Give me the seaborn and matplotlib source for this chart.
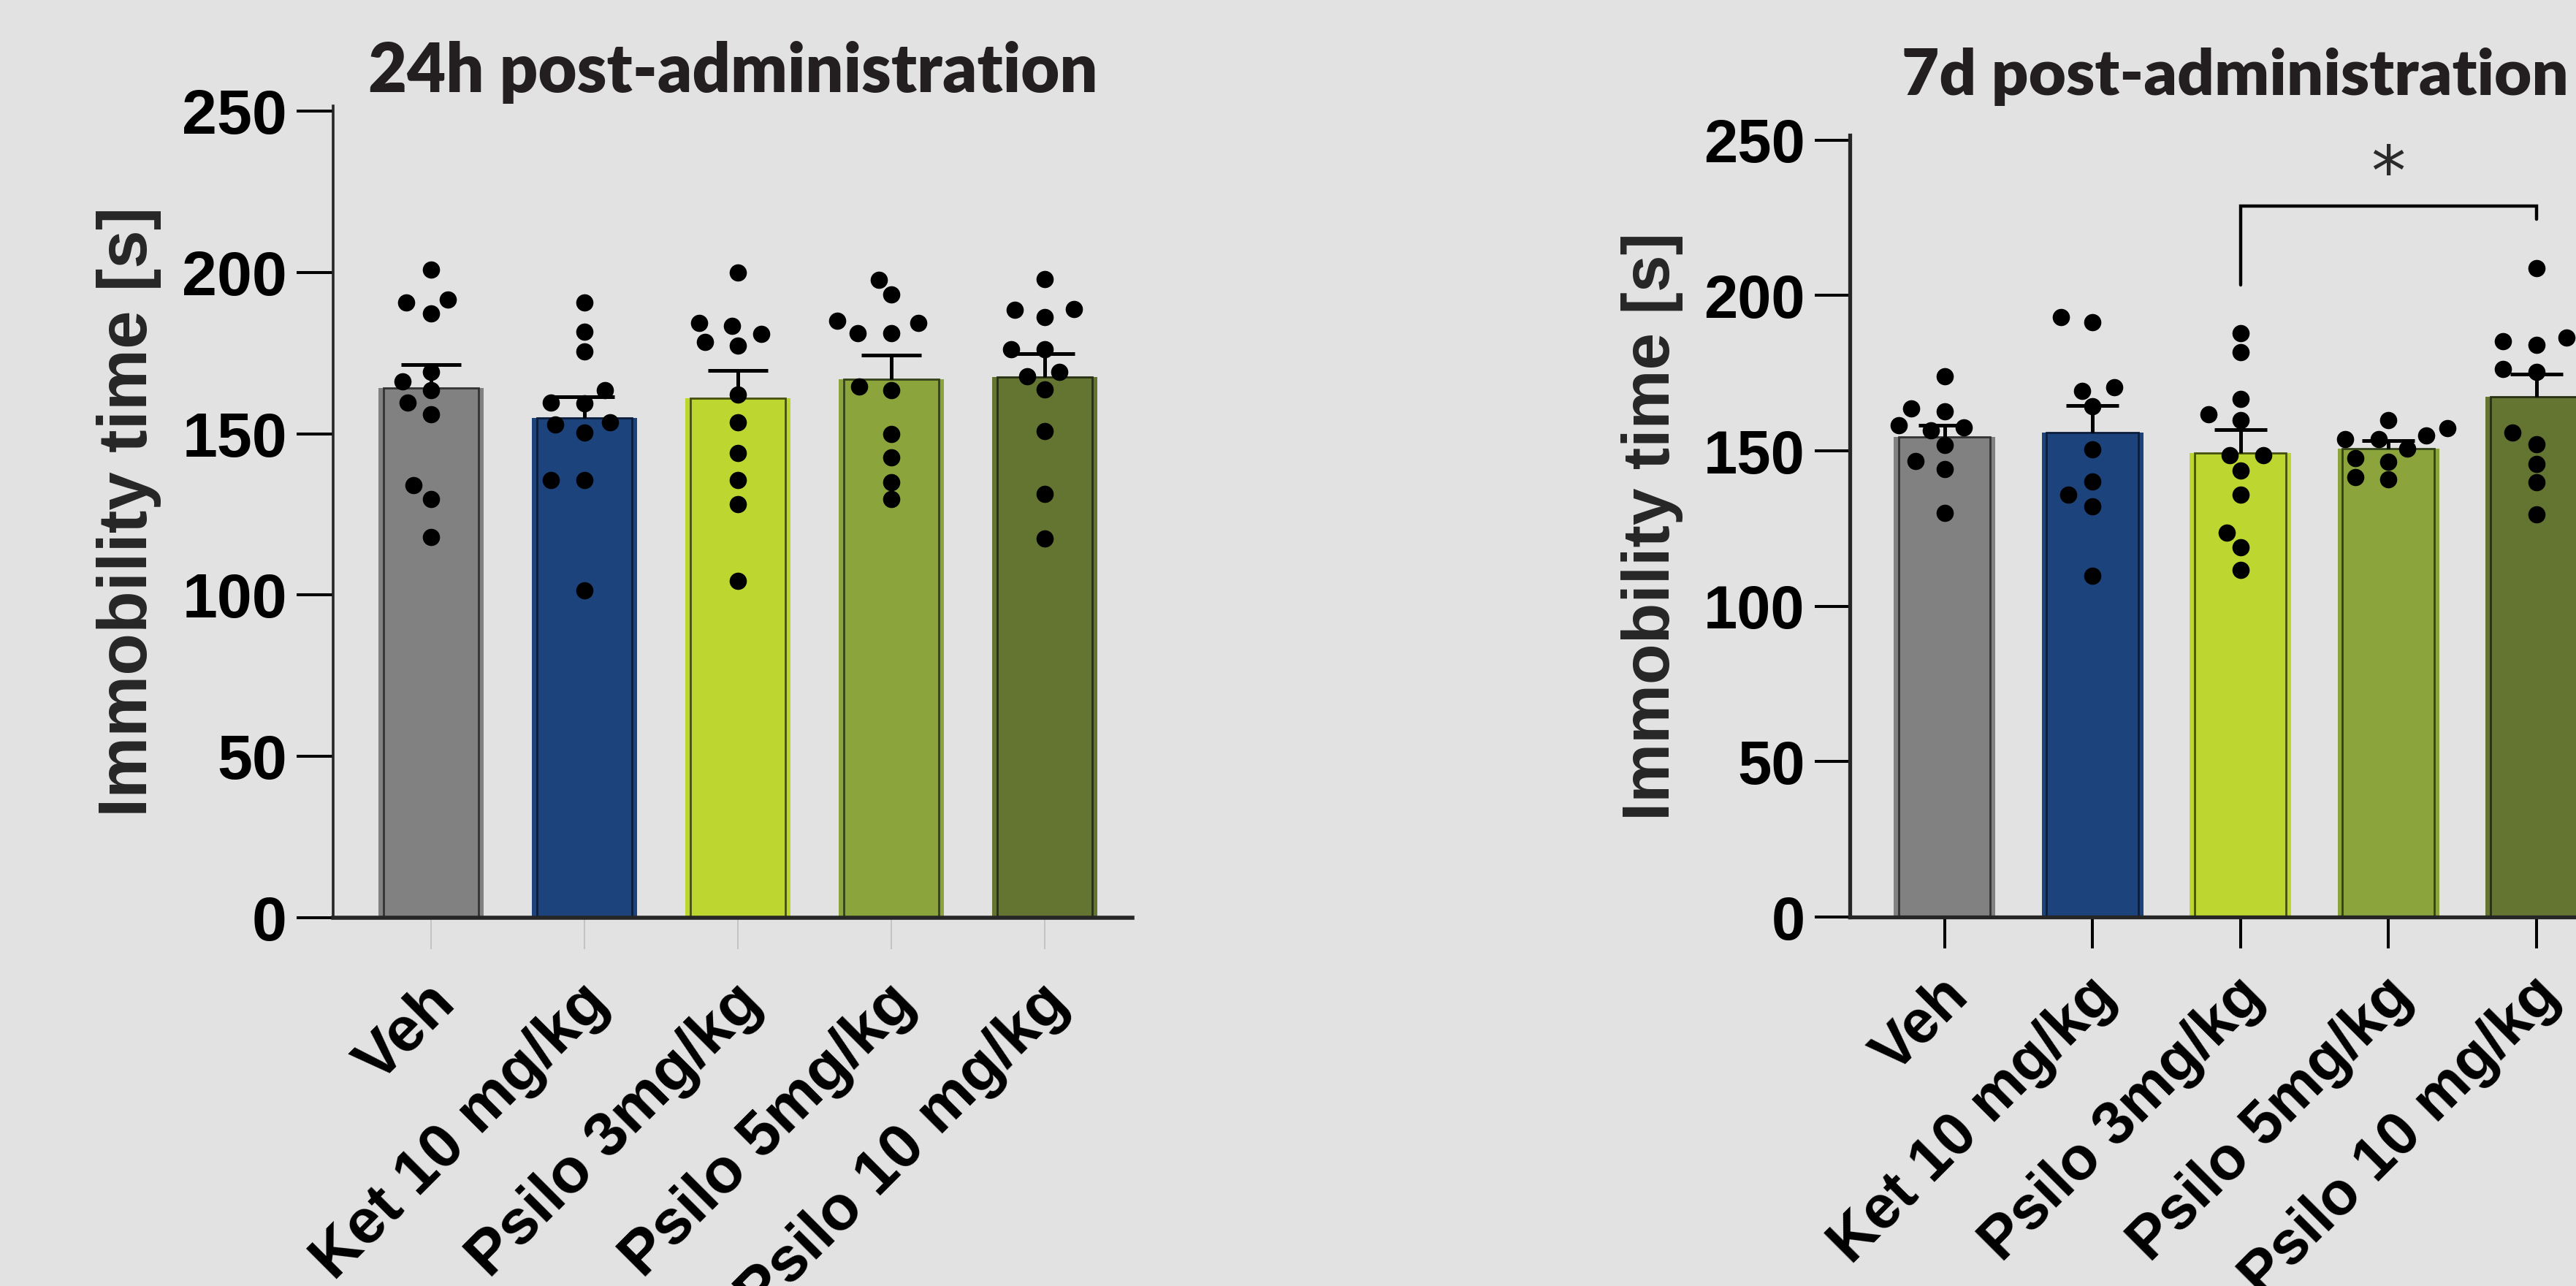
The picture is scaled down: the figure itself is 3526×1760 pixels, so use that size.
import numpy as np
import pandas as pd
import matplotlib.pyplot as plt
import matplotlib.transforms as mtransforms
import seaborn as sns

groups = ['Veh', 'Ket 10 mg/kg', 'Psilo 3mg/kg', 'Psilo 5mg/kg', 'Psilo 10 mg/kg']
bar_colors = ['#808180', '#1c437c', '#bdd630', '#8ba53c', '#647431']
edge_colors = ['#333333', '#0b1d3d', '#45500f', '#34421a', '#283012']

# 24h post-administration (individual animals)
veh_24h = [200.8, 190.6, 191.6, 187.3, 169.2, 166.1, 163.5, 159.6, 156.1, 134.0, 129.8, 118.0]
ket_24h = [190.6, 181.7, 175.4, 163.5, 159.6, 159.5, 153.6, 152.8, 150.3, 135.6, 135.6, 101.5]
psilo3_24h = [199.9, 183.5, 184.2, 181.0, 178.4, 177.4, 162.1, 153.6, 144.0, 135.7, 128.2, 104.4]
psilo5_24h = [197.7, 193.1, 185.1, 184.2, 181.2, 181.2, 164.7, 163.5, 149.9, 142.7, 135.0, 129.8]
psilo10_24h = [197.8, 188.3, 188.7, 186.1, 176.1, 176.1, 169.1, 167.8, 163.6, 150.9, 131.4, 117.6]
mean_24h = [164.2, 154.9, 161.0, 166.9, 167.6]
sem_24h = [7.1, 6.5, 8.5, 7.5, 7.1]

# 7d post-administration
veh_7d = [173.9, 163.7, 162.7, 157.6, 158.2, 156.6, 151.9, 146.7, 144.1, 130.1]
ket_7d = [191.3, 193.1, 170.5, 169.3, 164.4, 150.6, 140.2, 135.8, 132.2, 109.9]
psilo3_7d = [187.9, 181.8, 166.7, 161.8, 160.0, 148.5, 148.5, 143.6, 135.8, 123.8, 119.1, 111.7]
psilo5_7d = [160.0, 157.2, 155.0, 153.9, 153.7, 150.8, 147.6, 146.5, 141.6, 140.8]
psilo10_7d = [208.7, 186.5, 184.2, 185.2, 176.4, 175.4, 155.8, 152.1, 145.7, 139.9, 129.6]
mean_7d = [154.6, 155.9, 149.4, 150.7, 167.4]
sem_7d = [3.6, 8.8, 7.4, 2.5, 7.2]

# significance bracket on the 7d panel
sig_pair = ('Psilo 3mg/kg', 'Psilo 10 mg/kg')
sig_label = '*'

bg = '#e2e2e2'
FIGSIZE = (17.63, 8.8)
DPI = 200
XLIM = (-0.64, 4.57)
YLIM = (0, 251.6)
DOT = 8.5

sns.set_style('ticks')
plt.rcParams['font.family'] = ['Liberation Sans', 'DejaVu Sans']
plt.rcParams['font.weight'] = 'bold'


def long_form(samples):
    return pd.DataFrame({
        'group': np.repeat(groups, [len(s) for s in samples]),
        'value': np.concatenate(samples),
    })


def swarm_positions(df, rect):
    # Prism-like swarm: wide horizontal spacing, dots may touch vertically.
    # Run seaborn's beeswarm on a helper axes twice as tall, then reuse x.
    hfig = plt.figure(figsize=FIGSIZE, dpi=DPI)
    hax = hfig.add_axes([rect[0], 0, rect[2], rect[3] * 2])
    sns.swarmplot(data=df, x='group', y='value', order=groups, color='black',
                  size=DOT, linewidth=15.8 - DOT, edgecolor='none', ax=hax)
    hax.set_xlim(*XLIM)
    hax.set_ylim(*YLIM)
    hfig.canvas.draw()
    xy = np.concatenate([c.get_offsets() for c in hax.collections if len(c.get_offsets())])
    plt.close(hfig)
    return xy[:, 0], xy[:, 1]


def draw_panel(ax, samples, means, sems, title, s, title_pad, light_xticks, cap):
    df = long_form(samples)
    ax.set_facecolor(bg)
    sns.barplot(x=groups, y=means, hue=groups, palette=bar_colors, legend=False,
                saturation=1, width=0.686, linewidth=0, errorbar=None, ax=ax, zorder=1)
    sns.barplot(x=groups, y=means, hue=groups, palette=edge_colors, legend=False,
                saturation=1, width=0.62, linewidth=1.0, fill=False, errorbar=None,
                ax=ax, zorder=2)
    pos = np.arange(len(groups))
    tops = np.array(means) + np.array(sems)
    ax.vlines(pos, means, tops, color='black', lw=1.8, zorder=3)
    ax.hlines(tops, pos - cap, pos + cap, color='black', lw=1.8, zorder=3)

    px, py = swarm_positions(df, ax.get_position().bounds)
    sns.scatterplot(x=px, y=py, color='black', s=DOT ** 2, linewidth=0,
                    legend=False, ax=ax, zorder=4)

    ax.set_xticks(pos)
    ax.set_xticklabels(groups)
    ax.set_xlim(*XLIM)
    ax.set_ylim(*YLIM)
    ax.set_yticks([0, 50, 100, 150, 200, 250])
    ax.set_xlabel('')
    ax.set_ylabel('Immobility time [s]', fontsize=34 * s, fontweight='bold', labelpad=10)
    ax.set_title(title, fontfamily='Lato', fontweight='heavy', fontsize=33 * s,
                 color='#231f20', pad=title_pad)
    for side in ['top', 'right']:
        ax.spines[side].set_visible(False)
    ax.tick_params(axis='y', length=18 * s, width=1.45, pad=4.7, labelsize=31 * s,
                   colors='black')
    if light_xticks:
        ax.spines['left'].set_linewidth(1.3)
        ax.spines['bottom'].set_linewidth(2.0)
        ax.tick_params(axis='x', length=15.5, width=0.6, color='#bdbdbd',
                       pad=22, labelsize=31 * s, labelcolor='black')
    else:
        ax.spines['left'].set_linewidth(1.9)
        ax.spines['bottom'].set_linewidth(1.9)
        ax.tick_params(axis='x', length=15.5, width=1.45, color='black',
                       pad=19, labelsize=31 * s, labelcolor='black')
    offset = mtransforms.ScaledTranslation(20 / 200, 0, ax.figure.dpi_scale_trans)
    for lab in ax.get_xticklabels():
        lab.set_rotation(45)
        lab.set_ha('right')
        lab.set_va('center')
        lab.set_rotation_mode('anchor')
        lab.set_fontweight('bold')
        lab.set_transform(lab.get_transform() + offset)
    for lab in ax.get_yticklabels():
        lab.set_fontweight('bold')


fig = plt.figure(figsize=FIGSIZE, dpi=DPI, facecolor=bg)
ax1 = fig.add_axes([0.1293, 0.2864, 0.3103, 0.6313])
ax2 = fig.add_axes([0.7181, 0.2869, 0.2992, 0.6080])

draw_panel(ax1, [veh_24h, ket_24h, psilo3_24h, psilo5_24h, psilo10_24h],
           mean_24h, sem_24h, '24h post-administration', 1.0, 6.8, True, 0.195)
draw_panel(ax2, [veh_7d, ket_7d, psilo3_7d, psilo5_7d, psilo10_7d],
           mean_7d, sem_7d, '7d post-administration', 0.965, 19.8, False, 0.178)

# bracket + star
xi, xj = groups.index(sig_pair[0]), groups.index(sig_pair[1])
ax2.plot([xi, xi, xj, xj], [203.4, 228.7, 228.7, 224.6], color='black', lw=1.6,
         solid_joinstyle='miter', clip_on=False, zorder=5)
ax2.text((xi + xj) / 2, 238.5, sig_label, ha='center', va='center', fontsize=34,
         fontweight='normal', family='DejaVu Sans', color='#2a2a2a')

fig.savefig('out.png', dpi=DPI, facecolor=bg)
